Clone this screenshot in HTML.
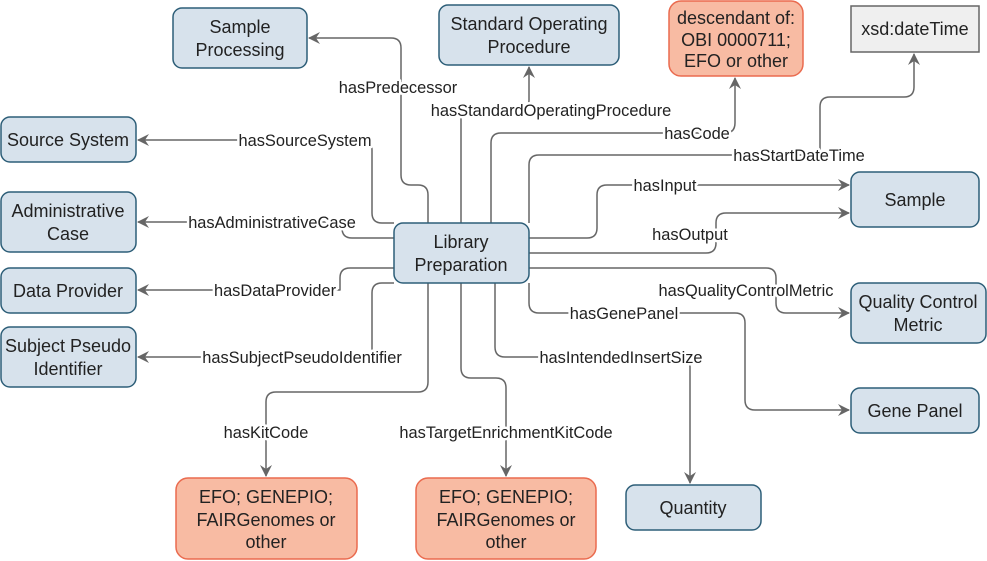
<!DOCTYPE html>
<html><head><meta charset="utf-8"><style>
html,body{margin:0;padding:0;background:#fff;}
svg{display:block;font-family:"Liberation Sans",Arial,sans-serif;}
.b{fill:#d7e2ec;stroke:#2d5e78;stroke-width:1.5}
.o{fill:#f8bba3;stroke:#ea6b4f;stroke-width:1.5}
.g{fill:#efefef;stroke:#666;stroke-width:1.5}
.e{fill:none;stroke:#666;stroke-width:1.5;stroke-linejoin:round}
.t{font-size:18px;fill:#222;text-anchor:middle}
.l{font-size:16.4px;fill:#222;text-anchor:middle}
.l text{paint-order:stroke;stroke:#fff;stroke-width:5px;stroke-linejoin:round}
</style></head><body>
<svg width="987" height="561" viewBox="0 0 987 561">
<defs><marker id="a" markerWidth="14" markerHeight="14" refX="11" refY="6" orient="auto" markerUnits="userSpaceOnUse"><path d="M0,0 L12,6 L0,12 L4,6 z" fill="#666"/></marker></defs>
<path class="e" marker-end="url(#a)" d="M428,223 V195 Q428,185 418,185 H411 Q401,185 401,175 V48 Q401,38 391,38 H309"/>
<path class="e" marker-end="url(#a)" d="M461,223 V110 H519 Q529,110 529,100 V67"/>
<path class="e" marker-end="url(#a)" d="M491,223 V143 Q491,133 501,133 H725 Q735,133 735,123 V78"/>
<path class="e" marker-end="url(#a)" d="M529,223 V165 Q529,155 539,155 H820 V107 Q820,97 830,97 H904 Q914,97 914,87 V54"/>
<path class="e" marker-end="url(#a)" d="M529,238 H587 Q597,238 597,228 V195 Q597,185 607,185 H849"/>
<path class="e" marker-end="url(#a)" d="M529,253 H706 Q716,253 716,243 V223 Q716,213 726,213 H849"/>
<path class="e" marker-end="url(#a)" d="M529,268 H766 Q776,268 776,278 V303 Q776,313 786,313 H849"/>
<path class="e" marker-end="url(#a)" d="M529,283 V303 Q529,313 539,313 H735 Q745,313 745,323 V400 Q745,410 755,410 H849"/>
<path class="e" marker-end="url(#a)" d="M495,283 V347 Q495,357 505,357 H680 Q690,357 690,367 V483"/>
<path class="e" marker-end="url(#a)" d="M461,283 V368 Q461,378 471,378 H496 Q506,378 506,388 V476"/>
<path class="e" marker-end="url(#a)" d="M428,283 V382 Q428,392 418,392 H276 Q266,392 266,402 V476"/>
<path class="e" marker-end="url(#a)" d="M394,223 H382 Q372,223 372,213 V150 Q372,140 362,140 H138"/>
<path class="e" marker-end="url(#a)" d="M394,238 H352 Q342,238 342,228 V222 H138"/>
<path class="e" marker-end="url(#a)" d="M394,268 H350 Q340,268 340,278 V290 H138"/>
<path class="e" marker-end="url(#a)" d="M394,283 H382 Q372,283 372,293 V357 H138"/>
<g class="l">
<text x="398" y="93">hasPredecessor</text>
<text x="551" y="116">hasStandardOperatingProcedure</text>
<text x="697" y="139">hasCode</text>
<text x="799" y="161">hasStartDateTime</text>
<text x="665" y="191">hasInput</text>
<text x="690" y="240">hasOutput</text>
<text x="746" y="296">hasQualityControlMetric</text>
<text x="624" y="319">hasGenePanel</text>
<text x="621" y="363">hasIntendedInsertSize</text>
<text x="506" y="438">hasTargetEnrichmentKitCode</text>
<text x="266" y="438">hasKitCode</text>
<text x="305" y="146">hasSourceSystem</text>
<text x="272" y="228">hasAdministrativeCase</text>
<text x="275" y="296">hasDataProvider</text>
<text x="302" y="363">hasSubjectPseudoIdentifier</text>
</g>
<g class="t">
<rect class="b" x="394" y="223" width="135" height="60" rx="9"/><text x="461" y="248">Library</text><text x="461" y="271">Preparation</text>
<rect class="b" x="173" y="8" width="134" height="60" rx="9"/><text x="240" y="33">Sample</text><text x="240" y="56">Processing</text>
<rect class="b" x="439" y="5" width="180" height="60" rx="9"/><text x="529" y="30">Standard Operating</text><text x="529" y="53">Procedure</text>
<rect class="o" x="669" y="1" width="134" height="75" rx="12"/><text x="736" y="24">descendant of:</text><text x="736" y="46">OBI 0000711;</text><text x="736" y="67">EFO or other</text>
<rect class="g" x="851" y="6" width="128" height="46"/><text x="915" y="35">xsd:dateTime</text>
<rect class="b" x="1" y="117" width="135" height="45" rx="9"/><text x="68" y="146">Source System</text>
<rect class="b" x="1" y="192" width="135" height="60" rx="9"/><text x="68" y="217">Administrative</text><text x="68" y="240">Case</text>
<rect class="b" x="1" y="268" width="135" height="45" rx="9"/><text x="68" y="297">Data Provider</text>
<rect class="b" x="1" y="327" width="135" height="60" rx="9"/><text x="68" y="352">Subject Pseudo</text><text x="68" y="375">Identifier</text>
<rect class="b" x="851" y="172" width="128" height="55" rx="9"/><text x="915" y="206">Sample</text>
<rect class="b" x="851" y="283" width="135" height="60" rx="9"/><text x="918" y="308">Quality Control</text><text x="918" y="331">Metric</text>
<rect class="b" x="851" y="388" width="128" height="45" rx="9"/><text x="915" y="417">Gene Panel</text>
<rect class="b" x="626" y="485" width="135" height="45" rx="9"/><text x="693" y="514">Quantity</text>
<rect class="o" x="176" y="478" width="181" height="81" rx="12"/><text x="266" y="503">EFO; GENEPIO;</text><text x="266" y="526">FAIRGenomes or</text><text x="266" y="548">other</text>
<rect class="o" x="416" y="478" width="180" height="81" rx="12"/><text x="506" y="503">EFO; GENEPIO;</text><text x="506" y="526">FAIRGenomes or</text><text x="506" y="548">other</text>
</g>
</svg>
</body></html>
